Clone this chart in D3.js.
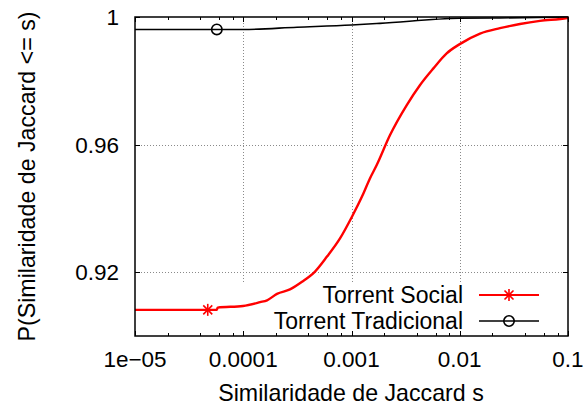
<!DOCTYPE html>
<html>
<head>
<meta charset="utf-8">
<script src="https://cdn.jsdelivr.net/npm/d3@7"></script>
<style>
  body { margin: 0; background: #fff; }
  svg { display: block; font-family: "Liberation Sans", Arial, sans-serif; }
</style>
</head>
<body>
<main></main>
<script>
// CDF da similaridade de Jaccard

const socialS = [1e-5, 5.7e-5, 5.8e-5, 9.95e-5, 1.43e-4, 1.66e-4, 2.05e-4, 2.7e-4, 3.49e-4, 4.6e-4, 5.94e-4,
                 7.83e-4, 1.01e-3, 1.25e-3, 1.48e-3, 1.71e-3, 2.27e-3, 3.24e-3, 4.3e-3, 5.71e-3, 7.57e-3,
                 0.01, 0.0154, 0.0235, 0.036, 0.0551, 0.098, 0.1];
const socialP = [0.9082, 0.9082, 0.9089, 0.9094, 0.9106, 0.9112, 0.9132, 0.9146, 0.9170, 0.9202, 0.9249,
                 0.9306, 0.9374, 0.9437, 0.9494, 0.9536, 0.9630, 0.9724, 0.9787, 0.9839, 0.9886,
                 0.9915, 0.9948, 0.9965, 0.9978, 0.9988, 0.9997, 1.0];

const tradS = [1e-5, 1e-4, 3.14e-4, 1e-3, 1.83e-3, 0.01, 0.0235, 0.1];
const tradP = [0.9961, 0.9961, 0.9968, 0.9975, 0.9980, 0.9996, 0.9997, 1.0];

const socialMarker = [4.7e-5, 0.9082];
const tradMarker = [5.7e-5, 0.9961];

const xTicks = [1e-5, 1e-4, 1e-3, 1e-2, 1e-1];
const xTickLabels = ["1e\u221205", "0.0001", "0.001", "0.01", "0.1"];
const yTicks = [0.92, 0.96, 1.0];
const yTickLabels = ["0.92", "0.96", "1"];
const seriesNames = ["Torrent Social", "Torrent Tradicional"];

const w = 584, h = 408;
const pLeft = 135, pRight = 568, pTop = 17, pBottom = 336;
const tickFont = 22.5;
const labelFont = 23.2;
const keyFont = 23;

const xScale = d3.scaleLog().domain([1e-5, 0.1]).range([pLeft, pRight]);
const yScale = d3.scaleLinear().domain([0.9, 1.0]).range([pBottom, pTop]);

const svg = d3.select("main")
              .append("svg")
              .attr("width", w)
              .attr("height", h);

// minor ticks at 2,4,6,8 per decade
let minorTicks = [];
for (let e = -5; e < -1; e++) {
	[2, 4, 6, 8].forEach(m => minorTicks.push(m * Math.pow(10, e)));
}

// grid
const grid = svg.append("g")
                .attr("stroke", "#8a8a8a")
                .attr("stroke-width", 1)
                .attr("stroke-dasharray", "1,2");

grid.selectAll("line.vx")
    .data(xTicks.slice(1, -1))
    .enter()
    .append("line")
    .attr("x1", d => Math.round(xScale(d)) + 0.5)
    .attr("x2", d => Math.round(xScale(d)) + 0.5)
    .attr("y1", pTop)
    .attr("y2", pBottom);

grid.selectAll("line.hy")
    .data(yTicks.slice(0, -1))
    .enter()
    .append("line")
    .attr("y1", d => Math.round(yScale(d)) + 0.5)
    .attr("y2", d => Math.round(yScale(d)) + 0.5)
    .attr("x1", pLeft)
    .attr("x2", pRight);

// opaque key box hides grid
svg.append("rect")
   .attr("x", 236)
   .attr("y", 283)
   .attr("width", 330)
   .attr("height", 47)
   .attr("fill", "#fff");

// ticks (inward, mirrored)
const ticks = svg.append("g").attr("stroke", "#000").attr("stroke-width", 1);

xTicks.forEach(d => {
	const x = Math.round(xScale(d)) + 0.5;
	ticks.append("line").attr("x1", x).attr("x2", x).attr("y1", pBottom).attr("y2", pBottom - 5);
	ticks.append("line").attr("x1", x).attr("x2", x).attr("y1", pTop).attr("y2", pTop + 5);
});
minorTicks.forEach(d => {
	const x = Math.round(xScale(d)) + 0.5;
	ticks.append("line").attr("x1", x).attr("x2", x).attr("y1", pBottom).attr("y2", pBottom - 3);
	ticks.append("line").attr("x1", x).attr("x2", x).attr("y1", pTop).attr("y2", pTop + 3);
});
yTicks.forEach(d => {
	const y = Math.round(yScale(d)) + 0.5;
	ticks.append("line").attr("x1", pLeft).attr("x2", pLeft + 5).attr("y1", y).attr("y2", y);
	ticks.append("line").attr("x1", pRight).attr("x2", pRight - 5).attr("y1", y).attr("y2", y);
});

// tick labels
svg.append("g")
   .selectAll("text")
   .data(xTicks)
   .enter()
   .append("text")
   .attr("x", d => xScale(d))
   .attr("y", 367)
   .attr("text-anchor", "middle")
   .attr("font-size", tickFont)
   .attr("fill", "#000")
   .text((d, i) => xTickLabels[i]);

svg.append("g")
   .selectAll("text")
   .data(yTicks)
   .enter()
   .append("text")
   .attr("x", 119)
   .attr("y", d => yScale(d))
   .attr("dy", "0.36em")
   .attr("text-anchor", "end")
   .attr("font-size", tickFont)
   .attr("fill", "#000")
   .text((d, i) => yTickLabels[i]);

// axis titles
svg.append("text")
   .attr("x", 351)
   .attr("y", 401)
   .attr("text-anchor", "middle")
   .attr("font-size", labelFont)
   .attr("fill", "#000")
   .text("Similaridade de Jaccard s");

svg.append("text")
   .attr("transform", "translate(27," + (pTop + pBottom) / 2 + ") rotate(-90)")
   .attr("dy", "0.36em")
   .attr("text-anchor", "middle")
   .attr("font-size", labelFont)
   .attr("fill", "#000")
   .text("P(Similaridade de Jaccard <= s)");

// curves
const line = d3.line()
               .x(d => xScale(d[0]))
               .y(d => yScale(d[1]))
               .curve(d3.curveMonotoneX);

const tradData = tradS.map((s, i) => [s, tradP[i]]);
const socialData = socialS.map((s, i) => [s, socialP[i]]);

svg.append("path")
   .attr("d", line(tradData))
   .attr("fill", "none")
   .attr("stroke", "#000")
   .attr("stroke-width", 1.6);

svg.append("path")
   .attr("d", line(socialData))
   .attr("fill", "none")
   .attr("stroke", "#ff0000")
   .attr("stroke-width", 2.4)
   .attr("stroke-linejoin", "round");

function asterisk(g, x, y) {
	const r = 6;
	const p = g.append("g")
	           .attr("transform", "translate(" + x + "," + y + ")")
	           .attr("stroke", "#ff0000")
	           .attr("stroke-width", 1.6);
	p.append("line").attr("x1", -r).attr("x2", r).attr("y1", 0).attr("y2", 0);
	p.append("line").attr("x1", 0).attr("x2", 0).attr("y1", -r).attr("y2", r);
	p.append("line").attr("x1", -r * 0.75).attr("x2", r * 0.75).attr("y1", -r * 0.75).attr("y2", r * 0.75);
	p.append("line").attr("x1", -r * 0.75).attr("x2", r * 0.75).attr("y1", r * 0.75).attr("y2", -r * 0.75);
}

function circle(g, x, y) {
	g.append("circle")
	 .attr("cx", x)
	 .attr("cy", y)
	 .attr("r", 5.2)
	 .attr("fill", "none")
	 .attr("stroke", "#000")
	 .attr("stroke-width", 1.6);
}

asterisk(svg, xScale(socialMarker[0]), yScale(socialMarker[1]));
circle(svg, xScale(tradMarker[0]), yScale(tradMarker[1]));

// legend
const legendY = [295, 321];
const legendColors = ["#ff0000", "#000"];

seriesNames.forEach((name, i) => {
	svg.append("text")
	   .attr("x", 463)
	   .attr("y", legendY[i])
	   .attr("dy", "0.36em")
	   .attr("text-anchor", "end")
	   .attr("font-size", keyFont)
	   .attr("fill", "#000")
	   .text(name);
	svg.append("line")
	   .attr("x1", 479)
	   .attr("x2", 539)
	   .attr("y1", legendY[i])
	   .attr("y2", legendY[i])
	   .attr("stroke", legendColors[i])
	   .attr("stroke-width", i == 0 ? 2 : 1.6);
	if (i == 0) asterisk(svg, 509, legendY[i]);
	else circle(svg, 509, legendY[i]);
});

// border
svg.append("rect")
   .attr("x", pLeft)
   .attr("y", pTop)
   .attr("width", pRight - pLeft)
   .attr("height", pBottom - pTop)
   .attr("fill", "none")
   .attr("stroke", "#000")
   .attr("stroke-width", 1.5);
</script>
</body>
</html>
